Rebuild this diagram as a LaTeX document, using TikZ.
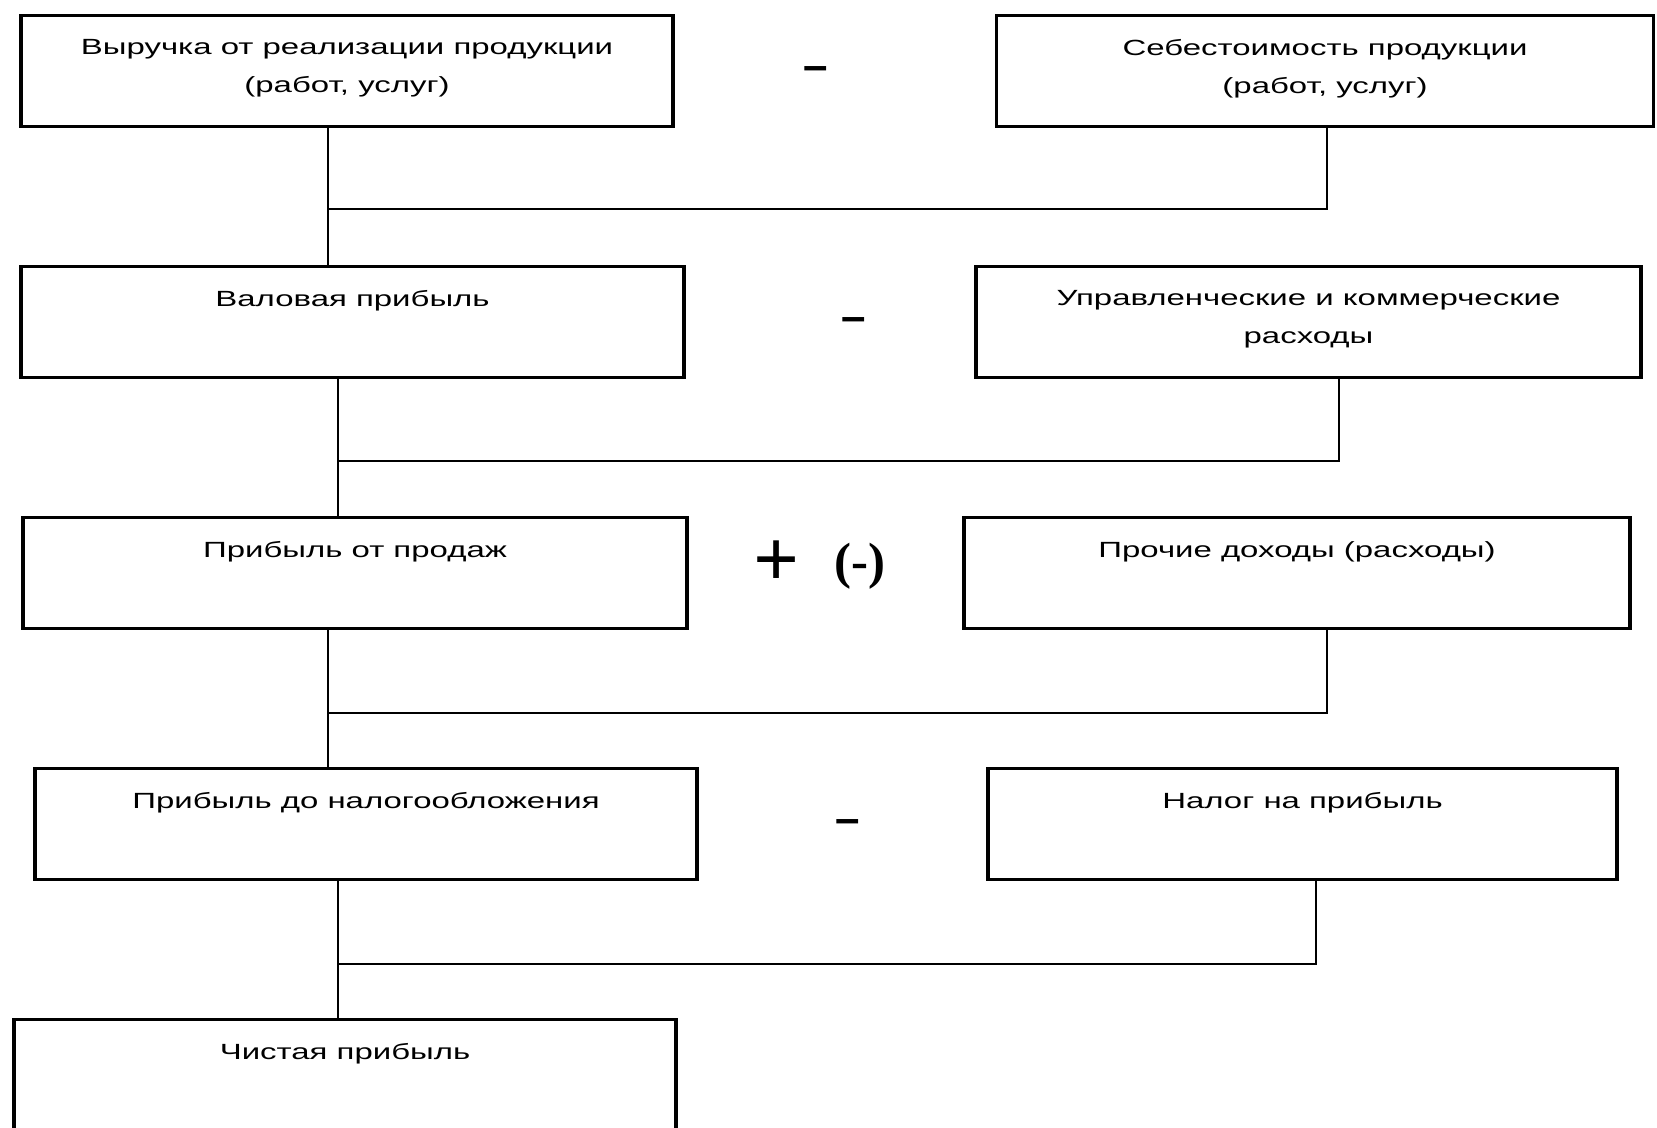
\documentclass[tikz,border=0pt]{standalone}
\usepackage{fontspec}
\newfontfamily\boxfont[FakeStretch=1.5]{Liberation Sans}
\newfontfamily\signfont{Liberation Serif}
\newfontfamily\dashfont{Liberation Sans}
\usetikzlibrary{arrows}

\begin{document}
\begin{tikzpicture}[node distance=5.02cm,
	box/.style={draw,line width=1.9pt,minimum height=2.22cm,inner sep=0pt},
	lbl/.style={anchor=north,inner sep=0pt,align=center,yshift=-0.5cm,font=\boxfont\fontsize{12.5}{21.5}\selectfont},
	sign/.style={inner sep=0pt,font=\dashfont\bfseries\fontsize{25}{25}\selectfont},
	link/.style={line width=1pt}]

\useasboundingbox (0,0) rectangle (33.14,-22.54);
\clip (0,0) rectangle (33.14,-22.54);

\node[box,minimum width=13.04cm,label={[lbl]north:{Выручка от реализации продукции\\(работ, услуг)}}] (b1) at (6.94,-1.42) {};
 \node[box,minimum width=13.14cm,node distance=19.56cm,right of=b1,label={[lbl]north:{Себестоимость продукции\\(работ, услуг)}}] (b2) {};
\node[box,minimum width=13.26cm,below of=b1,xshift=0.11cm,label={[lbl]north:{Валовая прибыль}}] (b3) {};
 \node[box,minimum width=13.30cm,node distance=19.12cm,right of=b3,label={[lbl]north:{Управленческие и коммерческие\\расходы}}] (b4) {};
\node[box,minimum width=13.28cm,below of=b3,xshift=0.05cm,label={[lbl]north:{Прибыль от продаж}}] (b5) {};
 \node[box,minimum width=13.32cm,node distance=18.84cm,right of=b5,label={[lbl]north:{Прочие доходы (расходы)}}] (b6) {};
\node[box,minimum width=13.24cm,below of=b5,xshift=0.22cm,label={[lbl]north:{Прибыль до налогообложения}}] (b7) {};
 \node[box,minimum width=12.58cm,node distance=18.73cm,right of=b7,label={[lbl]north:{Налог на прибыль}}] (b8) {};
\node[box,minimum width=13.24cm,below of=b7,xshift=-0.42cm,label={[lbl]north:{Чистая прибыль}}] (b9) {};

\node[sign] (m1) at (16.32,-1.48) {–};
\node[sign] (m2) at (17.08,-6.49) {–};
\node[inner sep=0pt,font=\signfont\bfseries] (pm) at (16.38,-11.3) {\raisebox{-0.16cm}{\fontsize{46}{46}\selectfont +}\hspace{0.7cm}{\fontsize{29}{29}\selectfont (-)}};
\node[sign] (m4) at (16.96,-16.53) {–};

\coordinate (j1) at (6.56,-4.18);	\coordinate (k1) at (26.54,-4.18);
\coordinate (j2) at (6.76,-9.22);	\coordinate (k2) at (26.78,-9.22);
\coordinate (j3) at (6.56,-14.26);	\coordinate (k3) at (26.54,-14.26);
\coordinate (j4) at (6.76,-19.28);	\coordinate (k4) at (26.32,-19.28);

\draw[link] (b1.south -| j1) -- (b3.north -| j1);
\draw[link] (j1) -- (k1) -- (b2.south -| k1);
\draw[link] (b3.south -| j2) -- (b5.north -| j2);
\draw[link] (j2) -- (k2) -- (b4.south -| k2);
\draw[link] (b5.south -| j3) -- (b7.north -| j3);
\draw[link] (j3) -- (k3) -- (b6.south -| k3);
\draw[link] (b7.south -| j4) -- (b9.north -| j4);
\draw[link] (j4) -- (k4) -- (b8.south -| k4);

\end{tikzpicture}
\end{document}
